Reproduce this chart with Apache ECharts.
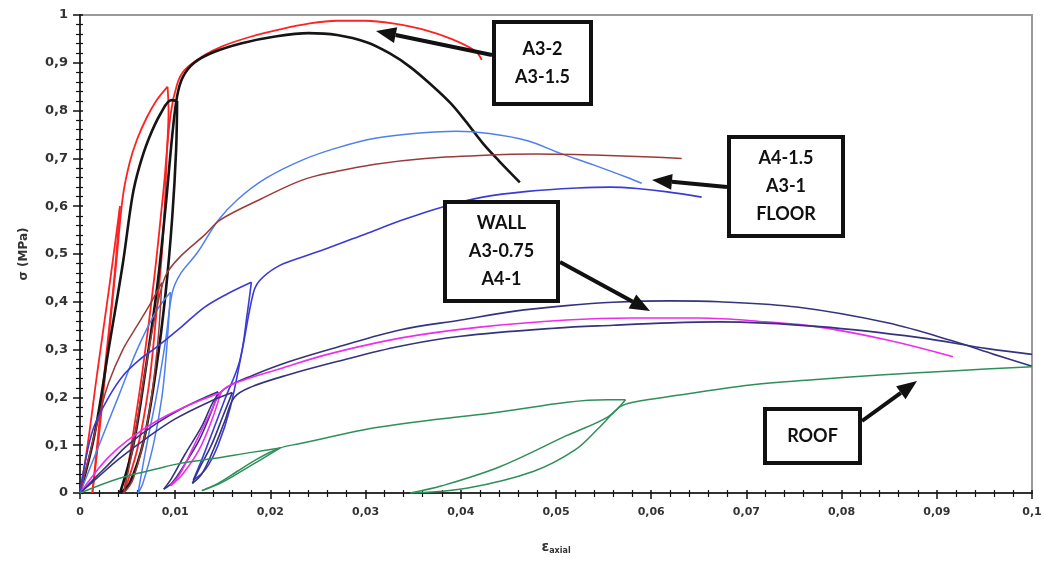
<!DOCTYPE html>
<html>
<head>
<meta charset="utf-8">
<script src="https://cdn.jsdelivr.net/npm/echarts@6/dist/echarts.min.js"></script>
<style>
html,body{margin:0;padding:0;background:#fff;}
#chart{width:1045px;height:565px;}
</style>
</head>
<body>
<div id="chart"></div>
<script>
// ---- Data: each test is a list of branches (loading / unloading / reloading), points are [strain, stress MPa] ----
const xTicks = [0,0.01,0.02,0.03,0.04,0.05,0.06,0.07,0.08,0.09,0.1];
const yTicks = [0,0.1,0.2,0.3,0.4,0.5,0.6,0.7,0.8,0.9,1];

const seriesA3_2 = [
  [[0,0],[0.0008,0.1],[0.0018,0.25],[0.003,0.42],[0.0042,0.6]],
  [[0.0042,0.6],[0.0036,0.45],[0.0025,0.24],[0.0016,0.06],[0.0013,0]],
  [[0.0013,0],[0.0021,0.14],[0.003,0.32],[0.0038,0.48],[0.0045,0.62],[0.0052,0.69],[0.006,0.74],[0.007,0.785],[0.008,0.82],[0.0092,0.85]],
  [[0.0092,0.85],[0.0093,0.8],[0.0091,0.7],[0.0089,0.6],[0.0086,0.5],[0.008,0.37],[0.0072,0.22],[0.006,0.09],[0.0046,0]],
  [[0.0046,0],[0.0054,0.1],[0.0066,0.26],[0.0078,0.45],[0.0088,0.64],[0.0095,0.79],[0.0102,0.855],[0.011,0.885],[0.013,0.915],[0.015,0.935],
   [0.018,0.955],[0.021,0.97],[0.024,0.982],[0.027,0.988],[0.03,0.988],[0.033,0.982],[0.036,0.97],[0.039,0.95],[0.0415,0.925],[0.0422,0.906]]
];

const seriesA3_15 = [
  [[0,0],[0.0015,0.12],[0.003,0.3],[0.0045,0.48],[0.0055,0.62],[0.0062,0.68],[0.0072,0.74],[0.0085,0.795],[0.0096,0.822],[0.0102,0.82]],
  [[0.0102,0.82],[0.0101,0.72],[0.0097,0.58],[0.009,0.42],[0.008,0.26],[0.0067,0.11],[0.0052,0.02],[0.0042,0]],
  [[0.0042,0],[0.0056,0.1],[0.0069,0.26],[0.0081,0.43],[0.009,0.6],[0.0097,0.75],[0.0102,0.83],[0.0108,0.87],[0.012,0.9],[0.014,0.922],
   [0.017,0.941],[0.0205,0.955],[0.024,0.962],[0.027,0.958],[0.0301,0.943],[0.0325,0.92],[0.0347,0.891],[0.037,0.852],[0.0389,0.816],
   [0.0405,0.778],[0.0423,0.732],[0.044,0.695],[0.0462,0.65]]
];

const seriesA4_15 = [
  [[0,0],[0.002,0.1],[0.004,0.2],[0.006,0.3],[0.008,0.38],[0.0095,0.42]],
  [[0.0095,0.42],[0.0091,0.3],[0.0086,0.2],[0.0077,0.1],[0.0066,0.02],[0.0061,0]],
  [[0.0061,0],[0.007,0.1],[0.008,0.2],[0.009,0.32],[0.0097,0.42],[0.0106,0.46],[0.0123,0.502],[0.0145,0.57],[0.0165,0.613],[0.0195,0.658],
   [0.0234,0.697],[0.027,0.722],[0.031,0.742],[0.0357,0.753],[0.0395,0.757],[0.043,0.752],[0.047,0.737],[0.0504,0.711],
   [0.054,0.686],[0.0575,0.66],[0.059,0.648]]
];

const seriesA3_1 = [
  [[0,0],[0.001,0.08],[0.002,0.16],[0.003,0.23],[0.0045,0.3],[0.006,0.35],[0.0075,0.4],[0.0086,0.44]],
  [[0.0086,0.44],[0.0081,0.3],[0.0071,0.15],[0.0056,0.03],[0.0046,0]],
  [[0.0046,0],[0.0056,0.1],[0.0068,0.25],[0.008,0.38],[0.009,0.455],[0.0105,0.494],[0.0131,0.54],[0.0147,0.571],[0.019,0.615],
   [0.0234,0.655],[0.027,0.673],[0.031,0.688],[0.0357,0.699],[0.042,0.706],[0.048,0.709],[0.054,0.707],[0.06,0.703],[0.0632,0.7]]
];

const seriesFloor = [
  [[0,0],[0.0005,0.06],[0.0014,0.135],[0.003,0.2],[0.0045,0.245],[0.0062,0.278],[0.0079,0.303],[0.0105,0.345],
   [0.0131,0.389],[0.0155,0.417],[0.018,0.441]],
  [[0.018,0.441],[0.0176,0.38],[0.0168,0.278],[0.0152,0.195],[0.0129,0.075],[0.0119,0.027]],
  [[0.0119,0.027],[0.0132,0.05],[0.0145,0.1],[0.0158,0.18],[0.0171,0.305],[0.0182,0.418],[0.0189,0.445],[0.0207,0.473],[0.0228,0.49],
   [0.026,0.512],[0.03,0.542],[0.034,0.572],[0.038,0.598],[0.0423,0.619],[0.047,0.631],[0.0522,0.638],[0.0557,0.64],
   [0.0585,0.637],[0.0617,0.63],[0.0653,0.619]]
];

const seriesWall = [
  [[0,0],[0.0015,0.03],[0.003,0.06],[0.005,0.1],[0.008,0.145],[0.011,0.18],[0.0145,0.212]],
  [[0.0145,0.212],[0.0138,0.17],[0.0125,0.11],[0.011,0.06],[0.0097,0.022],[0.0088,0.008]],
  [[0.0088,0.008],[0.0096,0.03],[0.011,0.08],[0.0128,0.14],[0.0142,0.198],[0.0155,0.222],[0.018,0.245],[0.022,0.275],[0.027,0.305],
   [0.0336,0.341],[0.04,0.362],[0.0455,0.38],[0.0511,0.392],[0.056,0.399],[0.062,0.402],[0.0672,0.4],[0.0753,0.389],
   [0.0848,0.356],[0.0917,0.318],[0.096,0.29],[0.1,0.265]]
];

const seriesA3_075 = [
  [[0,0],[0.0015,0.04],[0.003,0.075],[0.005,0.11],[0.008,0.15],[0.011,0.18],[0.0148,0.21]],
  [[0.0148,0.21],[0.0138,0.15],[0.0125,0.09],[0.0108,0.04],[0.0095,0.015]],
  [[0.0095,0.015],[0.0105,0.04],[0.012,0.1],[0.0135,0.16],[0.015,0.215],[0.017,0.235],[0.021,0.26],[0.026,0.29],[0.0336,0.324],
   [0.042,0.347],[0.0511,0.362],[0.058,0.366],[0.0651,0.366],[0.072,0.358],[0.0777,0.347],[0.0848,0.32],[0.0917,0.285]]
];

const seriesA4_1 = [
  [[0,0],[0.002,0.035],[0.004,0.07],[0.007,0.115],[0.01,0.155],[0.0135,0.19],[0.016,0.21]],
  [[0.016,0.21],[0.015,0.16],[0.0138,0.1],[0.0125,0.05],[0.0118,0.02]],
  [[0.0118,0.02],[0.0128,0.04],[0.014,0.09],[0.0152,0.15],[0.0162,0.2],[0.018,0.222],[0.022,0.248],[0.027,0.275],[0.0336,0.307],
   [0.04,0.328],[0.05,0.345],[0.056,0.351],[0.062,0.356],[0.0672,0.358],[0.0777,0.348],[0.0882,0.325],[0.0953,0.302],[0.1,0.29]]
];

const seriesRoof = [
  [[0,0],[0.004,0.03],[0.008,0.05],[0.0105,0.062],[0.014,0.072],[0.018,0.085],[0.021,0.094]],
  [[0.021,0.094],[0.019,0.07],[0.0165,0.04],[0.0145,0.018],[0.0128,0.005]],
  [[0.0128,0.005],[0.0145,0.02],[0.0165,0.045],[0.0185,0.07],[0.021,0.094],[0.023,0.103],[0.0315,0.138],[0.0431,0.167],[0.0554,0.195],[0.0573,0.195]],
  [[0.0573,0.195],[0.0555,0.16],[0.0511,0.12],[0.0441,0.055],[0.038,0.015],[0.0347,0]],
  [[0.0347,0],[0.0406,0.01],[0.0476,0.045],[0.052,0.09],[0.0546,0.138],[0.0567,0.18],[0.0581,0.19],[0.063,0.205],[0.0704,0.226],
   [0.077,0.237],[0.084,0.247],[0.092,0.256],[0.1,0.264]]
];

const seriesNames = ['A3-2','A3-1.5','A4-1.5','A3-1','FLOOR','WALL','A3-0.75','A4-1','ROOF'];
const seriesData = [seriesA3_2, seriesA3_15, seriesA4_15, seriesA3_1, seriesFloor, seriesWall, seriesA3_075, seriesA4_1, seriesRoof];
const seriesColors = ['#ff2222','#151515','#4f7ff0','#9a3b3b','#3a3ad8','#34347e','#ee2cee','#34347e','#2f8f5a'];
const seriesWidths = [1.8,2.6,1.5,1.5,1.6,1.6,1.6,1.6,1.5];

// annotation boxes (pixel layout)
const boxes = [
  {x:492,y:20,w:101,h:86,lines:['A3-2','A3-1.5'],arrow:[492,55,376,31]},
  {x:727,y:135,w:118,h:103,lines:['A4-1.5','A3-1','FLOOR'],arrow:[727,187,652,180]},
  {x:443,y:200,w:117,h:103,lines:['WALL','A3-0.75','A4-1'],arrow:[560,262,650,311]},
  {x:763,y:407,w:99,h:58,lines:['ROOF'],arrow:[862,421,917,381]}
];

const fmt = v => String(+(+v).toFixed(3)).replace('.', ',');

const graphics = [];
boxes.forEach(b => {
  const [x1,y1,x2,y2] = b.arrow;
  const a = Math.atan2(y2-y1, x2-x1), L = 20, W = 8;
  const bx = x2 - L*Math.cos(a), by = y2 - L*Math.sin(a);
  graphics.push({type:'line', z:100, shape:{x1:x1,y1:y1,x2:bx,y2:by}, style:{stroke:'#111', lineWidth:4}});
  graphics.push({type:'polygon', z:100, shape:{points:[[x2,y2],[bx - W*Math.sin(a), by + W*Math.cos(a)],[bx + W*Math.sin(a), by - W*Math.cos(a)]]}, style:{fill:'#111'}});
  graphics.push({type:'rect', z:101, shape:{x:b.x+2,y:b.y+2,width:b.w-4,height:b.h-4}, style:{fill:'#fff', stroke:'#111', lineWidth:4}});
  graphics.push({type:'text', z:102, x:b.x + b.w/2, y:b.y + b.h/2, style:{text:b.lines.join('\n'), fill:'#111', font:'bold 18px Lato', lineHeight:28, textAlign:'center', textVerticalAlign:'middle'}});
});

const series = [];
seriesData.forEach((segs, i) => {
  segs.forEach((seg) => {
    series.push({
      name: seriesNames[i], type:'line', data: seg, showSymbol:false, symbol:'none', smooth:0.35,
      lineStyle:{color:seriesColors[i], width:seriesWidths[i]}, z: 2 + i
    });
  });
});

const xBase = {type:'value', min:xTicks[0], max:xTicks[xTicks.length-1], interval:0.01, splitLine:{show:false}};
const yBase = {type:'value', min:yTicks[0], max:yTicks[yTicks.length-1], interval:0.1, splitLine:{show:false}};

const chart = echarts.init(document.getElementById('chart'), null, {renderer:'canvas'});
chart.setOption({
  animation:false,
  backgroundColor:'#fff',
  grid:{left:80, right:13, top:15, bottom:72, show:true, borderColor:'#9a9a9a', borderWidth:2},
  xAxis:[Object.assign({}, xBase, {
    name:'{e|ε}{s|axial}', nameLocation:'middle', nameGap:46,
    nameTextStyle:{rich:{e:{fontSize:14,color:'#333',fontFamily:'DejaVu Sans',fontWeight:'bold'}, s:{fontSize:8,color:'#333',fontWeight:'bold',padding:[8,0,0,0],fontFamily:'DejaVu Sans'}}},
    axisLine:{lineStyle:{color:'#111', width:1.5}},
    axisTick:{show:true, length:6, lineStyle:{color:'#111', width:1.5}},
    minorTick:{show:true, splitNumber:5, length:4, lineStyle:{color:'#111', width:1.2}},
    axisLabel:{formatter:fmt, color:'#333', fontSize:11, fontFamily:'DejaVu Sans', fontWeight:'bold', margin:14}
  }), Object.assign({}, xBase, {
    position:'bottom', axisLine:{show:false}, axisLabel:{show:false},
    axisTick:{show:true, inside:true, length:3, lineStyle:{color:'#111', width:1.5}},
    minorTick:{show:true, splitNumber:5, length:3, lineStyle:{color:'#111', width:1.2}}
  })],
  yAxis:[Object.assign({}, yBase, {
    name:'σ (MPa)', nameLocation:'middle', nameGap:50, nameRotate:90,
    nameTextStyle:{fontSize:12, color:'#333', fontFamily:'DejaVu Sans', fontWeight:'bold'},
    axisLine:{show:true, lineStyle:{color:'#111', width:1.5}},
    axisTick:{show:true, length:7, lineStyle:{color:'#111', width:1.5}},
    minorTick:{show:true, splitNumber:5, length:4, lineStyle:{color:'#111', width:1.2}},
    axisLabel:{formatter:fmt, color:'#333', fontSize:13, fontFamily:'DejaVu Sans', fontWeight:'bold', margin:12}
  }), Object.assign({}, yBase, {
    position:'left', axisLine:{show:false}, axisLabel:{show:false},
    axisTick:{show:true, inside:true, length:3, lineStyle:{color:'#111', width:1.5}},
    minorTick:{show:true, splitNumber:5, length:3, lineStyle:{color:'#111', width:1.2}}
  })],
  series: series,
  graphic: graphics
});
</script>
</body>
</html>
